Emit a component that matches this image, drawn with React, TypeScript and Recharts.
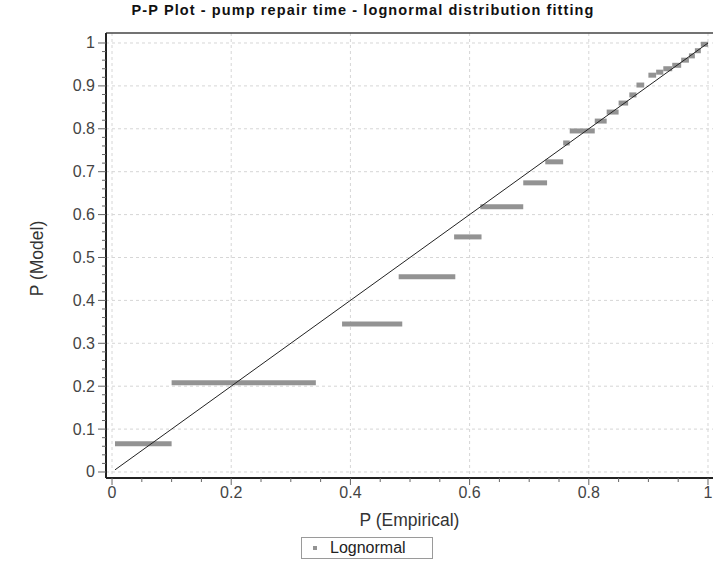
import { ComposedChart, Line, XAxis, YAxis, CartesianGrid, ReferenceLine } from "recharts"

// P-P plot: each step of the empirical CDF against the fitted lognormal CDF
const stepStart = [0.005, 0.1, 0.386, 0.481, 0.574, 0.618, 0.69, 0.727, 0.757, 0.768, 0.81, 0.83, 0.85, 0.868, 0.88, 0.9, 0.913, 0.925, 0.94, 0.955, 0.968, 0.978, 0.988]
const stepEnd = [0.1, 0.342, 0.487, 0.576, 0.62, 0.69, 0.73, 0.757, 0.768, 0.81, 0.83, 0.85, 0.866, 0.88, 0.893, 0.913, 0.925, 0.94, 0.955, 0.968, 0.978, 0.988, 1.0]
const stepModel = [0.066, 0.208, 0.345, 0.455, 0.548, 0.618, 0.674, 0.723, 0.767, 0.795, 0.818, 0.839, 0.86, 0.879, 0.902, 0.925, 0.932, 0.94, 0.948, 0.96, 0.97, 0.982, 0.997]

const refLine = [
  { x: 0.005, y: 0.005 },
  { x: 1, y: 1 },
]

const xMajorTicks = [0, 0.2, 0.4, 0.6, 0.8, 1]
const xTickLabels = ["0", "0.2", "0.4", "0.6", "0.8", "1"]
const yMajorTicks = [0, 0.1, 0.2, 0.3, 0.4, 0.5, 0.6, 0.7, 0.8, 0.9, 1]
const yTickLabels = ["0", "0.1", "0.2", "0.3", "0.4", "0.5", "0.6", "0.7", "0.8", "0.9", "1"]

const xDomain = [-0.0101, 1.0084]
const yDomain = [-0.014, 1.0233]

function withMinor(majors: number[], parts: number) {
  const out: number[] = []
  majors.forEach((m, i) => {
    out.push(m)
    if (i < majors.length - 1) {
      const step = (majors[i + 1] - m) / parts
      for (let k = 1; k < parts; k++) out.push(+(m + step * k).toFixed(4))
    }
  })
  return out
}

const xAllTicks = withMinor(xMajorTicks, 4)
const yAllTicks = withMinor(yMajorTicks, 5)

const FONT = '"Liberation Sans", Arial, sans-serif'

const majorIndex = (list: number[], v: number) => list.findIndex((t) => Math.abs(t - v) < 1e-6)

function YTick({ x, y, payload }: any) {
  const idx = majorIndex(yMajorTicks, payload.value)
  const major = idx >= 0
  return (
    <g>
      <line x1={x} x2={x - (major ? 8 : 4)} y1={y} y2={y} stroke="#666" />
      {major && (
        <text x={x - 11} y={y + 5.5} textAnchor="end" fontSize={16} fill="#444" fontFamily={FONT}>
          {yTickLabels[idx]}
        </text>
      )}
    </g>
  )
}

function XTick({ x, y, payload }: any) {
  const idx = majorIndex(xMajorTicks, payload.value)
  const major = idx >= 0
  return (
    <g>
      <line x1={x} x2={x} y1={y} y2={y + (major ? 7 : 4)} stroke="#666" />
      {major && (
        <text x={x} y={y + 20} textAnchor="middle" fontSize={16} fill="#444" fontFamily={FONT}>
          {xTickLabels[idx]}
        </text>
      )}
    </g>
  )
}

export default function App() {
  return (
    <div style={{ position: "absolute", left: 0, top: 0, width: 715, height: 580, background: "#fff", fontFamily: FONT }}>
      <div
        style={{
          position: "absolute",
          left: 0,
          width: 726,
          top: 2,
          textAlign: "center",
          fontSize: 14.5,
          letterSpacing: 1.1,
          fontWeight: "bold",
          color: "#111",
        }}
      >
        P-P Plot - pump repair time - lognormal distribution fitting
      </div>
      <ComposedChart width={715} height={580} margin={{ top: 33, right: 2, left: 0, bottom: 0 }}>
        <CartesianGrid horizontalValues={yMajorTicks} verticalValues={xMajorTicks} stroke="#d6d6d6" strokeDasharray="3 3" />
        <XAxis
          type="number"
          dataKey="x"
          domain={xDomain}
          allowDataOverflow
          ticks={xAllTicks}
          interval={0}
          height={102}
          tickSize={0}
          tickMargin={0}
          tick={<XTick />}
          axisLine={{ stroke: "#222", strokeWidth: 2 }}
          label={{
            content: ({ viewBox }: any) => (
              <text x={viewBox.x + viewBox.width / 2} y={viewBox.y + 48} textAnchor="middle" fontSize={17.5} fill="#333" fontFamily={FONT}>
                P (Empirical)
              </text>
            ),
          }}
        />
        <YAxis
          type="number"
          dataKey="y"
          domain={yDomain}
          allowDataOverflow
          ticks={yAllTicks}
          interval={0}
          width={106}
          tickSize={0}
          tickMargin={0}
          tick={<YTick />}
          axisLine={{ stroke: "#222", strokeWidth: 2 }}
          label={{
            content: ({ viewBox }: any) => {
              const cy = viewBox.y + viewBox.height / 2 + 3
              return (
                <text x={37} y={cy} transform={`rotate(-90 37 ${cy})`} textAnchor="middle" dominantBaseline="central" fontSize={17.5} fill="#333" fontFamily={FONT}>
                  P (Model)
                </text>
              )
            },
          }}
        />
        <ReferenceLine y={yDomain[1]} stroke="#444" strokeWidth={1.5} />
        {stepModel.map((m, i) => (
          <Line
            key={`step-${i}`}
            data={[
              { x: stepStart[i], y: m },
              { x: stepEnd[i], y: m },
            ]}
            dataKey="y"
            type="linear"
            stroke="#939393"
            strokeWidth={5}
            dot={false}
            activeDot={false}
            isAnimationActive={false}
          />
        ))}
        <Line data={refLine} dataKey="y" type="linear" stroke="#222" strokeWidth={1} dot={false} activeDot={false} isAnimationActive={false} />
      </ComposedChart>
      <div
        style={{
          position: "absolute",
          left: 301,
          top: 537,
          width: 130,
          height: 20,
          border: "1px solid #9a9a9a",
          display: "flex",
          alignItems: "center",
          fontSize: 16,
          color: "#222",
        }}
      >
        <span style={{ display: "inline-block", width: 4, height: 4, background: "#939393", marginLeft: 11, marginRight: 13 }} />
        Lognormal
      </div>
    </div>
  )
}
